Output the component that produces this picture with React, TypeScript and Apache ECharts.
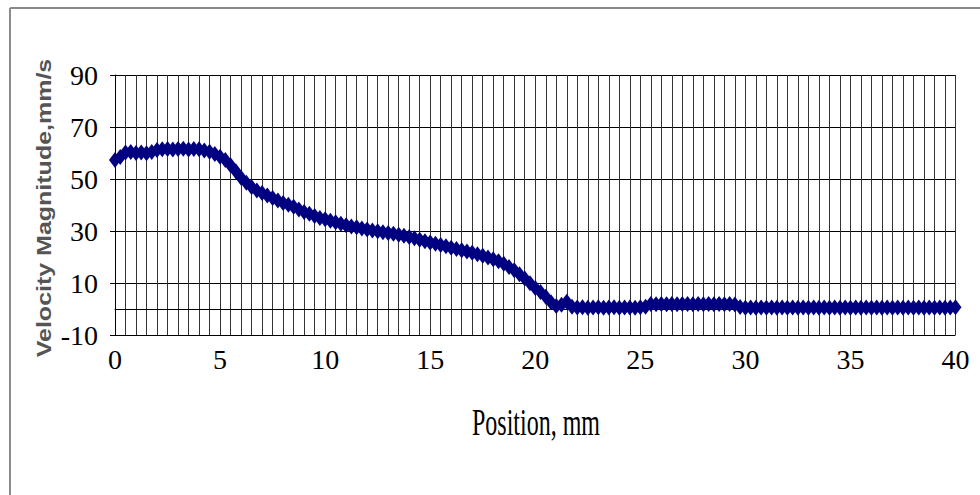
import React, { useEffect, useRef } from "react";
import * as echarts from "echarts";

const positions = [
  0, 0.25, 0.5, 0.75, 1, 1.25, 1.5, 1.75, 2, 2.25, 2.5, 2.75, 3, 3.25, 3.5, 3.75,
  4, 4.25, 4.5, 4.75, 5, 5.25, 5.5, 5.75, 6, 6.25, 6.5, 6.75, 7, 7.25, 7.5, 7.75,
  8, 8.25, 8.5, 8.75, 9, 9.25, 9.5, 9.75, 10, 10.25, 10.5, 10.75, 11, 11.25, 11.5, 11.75,
  12, 12.25, 12.5, 12.75, 13, 13.25, 13.5, 13.75, 14, 14.25, 14.5, 14.75, 15, 15.25, 15.5, 15.75,
  16, 16.25, 16.5, 16.75, 17, 17.25, 17.5, 17.75, 18, 18.25, 18.5, 18.75, 19, 19.25, 19.5, 19.75,
  20, 20.25, 20.5, 20.75, 21, 21.25, 21.5, 21.75, 22, 22.25, 22.5, 22.75, 23, 23.25, 23.5, 23.75,
  24, 24.25, 24.5, 24.75, 25, 25.25, 25.5, 25.75, 26, 26.25, 26.5, 26.75, 27, 27.25, 27.5, 27.75,
  28, 28.25, 28.5, 28.75, 29, 29.25, 29.5, 29.75, 30, 30.25, 30.5, 30.75, 31, 31.25, 31.5, 31.75,
  32, 32.25, 32.5, 32.75, 33, 33.25, 33.5, 33.75, 34, 34.25, 34.5, 34.75, 35, 35.25, 35.5, 35.75,
  36, 36.25, 36.5, 36.75, 37, 37.25, 37.5, 37.75, 38, 38.25, 38.5, 38.75, 39, 39.25, 39.5, 39.75,
  40,
];

const velocity = [
  57.3, 58.5, 60.2, 60.4, 60.0, 60.2, 59.9, 60.4, 61.2, 61.4, 61.5, 61.3, 61.5, 61.6, 61.3, 61.5,
  61.4, 61.0, 60.5, 59.6, 58.6, 57.3, 55.3, 53.0, 50.5, 48.6, 46.9, 45.6, 44.6, 43.7, 42.7, 41.7,
  40.8, 40.1, 39.3, 38.3, 37.3, 36.6, 35.8, 35.0, 34.5, 33.9, 33.4, 32.8, 32.2, 31.7, 31.4, 31.0,
  30.6, 30.2, 29.9, 29.5, 29.2, 28.9, 28.6, 28.2, 27.7, 27.2, 26.6, 26.1, 25.6, 25.1, 24.6, 24.1,
  23.6, 23.1, 22.6, 22.1, 21.6, 21.1, 20.5, 19.8, 19.1, 18.4, 17.4, 16.2, 14.9, 13.4, 11.7, 9.9,
  8.1, 6.5, 4.7, 2.6, 1.2, 1.6, 2.8, 0.9, 0.6, 0.7, 0.5, 0.6, 0.7, 0.5, 0.6, 0.7,
  0.5, 0.6, 0.6, 0.5, 0.7, 0.9, 1.9, 1.8, 1.9, 1.8, 1.9, 1.8, 1.9, 1.9, 1.8, 1.9,
  1.8, 1.9, 1.8, 1.9, 1.8, 1.9, 1.7, 0.8, 0.5, 0.6, 0.5, 0.6, 0.5, 0.6, 0.5, 0.6,
  0.5, 0.6, 0.5, 0.6, 0.5, 0.6, 0.5, 0.6, 0.5, 0.6, 0.5, 0.6, 0.5, 0.6, 0.5, 0.6,
  0.5, 0.6, 0.5, 0.6, 0.5, 0.6, 0.5, 0.6, 0.5, 0.6, 0.5, 0.6, 0.5, 0.6, 0.5, 0.6,
  0.7,
];

const xTitle = "Position, mm";
const yTitle = "Velocity Magnitude,mm/s";
const yMin = -10;
const yMax = 90;
const yStep = 20;
const xMin = 0;
const xMax = 40;
const xGridStep = 0.5;
const xLabelStep = 5;

export default function App() {
  const ref = useRef<HTMLDivElement>(null);

  useEffect(() => {
    document.body.style.margin = "0";
    if (!ref.current) return;
    const chart = echarts.init(ref.current, null, { renderer: "svg" });
    const data = positions.map((p, i) => [p, velocity[i]]);
    const serif = "Times New Roman, Liberation Serif, serif";
    const tick = { fontFamily: serif, fontSize: 28, color: "#000" };

    chart.setOption({
      animation: false,
      backgroundColor: "#ffffff",
      textStyle: { fontFamily: serif },
      grid: {
        left: 115,
        right: 24.5,
        top: 75,
        bottom: 160,
        containLabel: false,
        outerBoundsMode: "none",
      },
      xAxis: {
        type: "value",
        min: xMin,
        max: xMax,
        interval: xGridStep,
        axisLine: { show: true, lineStyle: { color: "#000", width: 1 } },
        axisTick: { show: false },
        axisLabel: {
          margin: 10,
          color: "#000",
          fontFamily: serif,
          fontSize: 28,
          formatter: (v: number) =>
            Math.abs(v % xLabelStep) < 1e-9 ? "{t|" + String(v) + "}" : "",
          rich: { t: tick },
        },
        splitLine: { show: true, lineStyle: { color: "#333", width: 1 } },
      },
      yAxis: {
        type: "value",
        min: yMin,
        max: yMax,
        interval: yStep,
        axisLine: { show: true, lineStyle: { color: "#000", width: 1 } },
        axisTick: { show: true, inside: false, length: 5, lineStyle: { color: "#000" } },
        axisLabel: {
          margin: 17,
          color: "#000",
          fontFamily: serif,
          fontSize: 28,
          formatter: (v: number) => "{t|" + String(v) + "}",
          rich: { t: tick },
        },
        splitLine: { show: true, lineStyle: { color: "#000", width: 1 } },
      },
      graphic: [
        {
          type: "line",
          shape: { x1: 10, y1: 8, x2: 10, y2: 495 },
          style: { stroke: "#8a8a8a", lineWidth: 2 },
        },
        {
          type: "line",
          shape: { x1: 10, y1: 8, x2: 980, y2: 8 },
          style: { stroke: "#8a8a8a", lineWidth: 2 },
        },
        {
          type: "text",
          x: 536,
          y: 422,
          scaleY: 1.6,
          style: {
            text: xTitle,
            fontFamily: serif,
            fontSize: 24,
            fill: "#000",
            align: "center",
            verticalAlign: "middle",
          },
        },
        {
          type: "text",
          x: 44,
          y: 208,
          rotation: Math.PI / 2,
          scaleX: 1.25,
          style: {
            text: yTitle,
            fontFamily: "Liberation Sans",
            fontWeight: "bold",
            fontSize: 20,
            fill: "#555",
            align: "center",
            verticalAlign: "middle",
          },
        },
      ],
      series: [
        {
          type: "line",
          data,
          symbol: "diamond",
          symbolSize: [12, 16],
          showSymbol: true,
          showAllSymbol: true,
          itemStyle: { color: "#000080" },
          lineStyle: { color: "#000080", width: 6 },
          markLine: {
            silent: true,
            symbol: "none",
            label: { show: false },
            lineStyle: { color: "#000", width: 1, type: "solid" },
            data: [{ yAxis: 0 }],
          },
          z: 5,
        },
      ],
    });

    return () => chart.dispose();
  }, []);

  return <div ref={ref} style={{ width: 980, height: 495 }} />;
}
